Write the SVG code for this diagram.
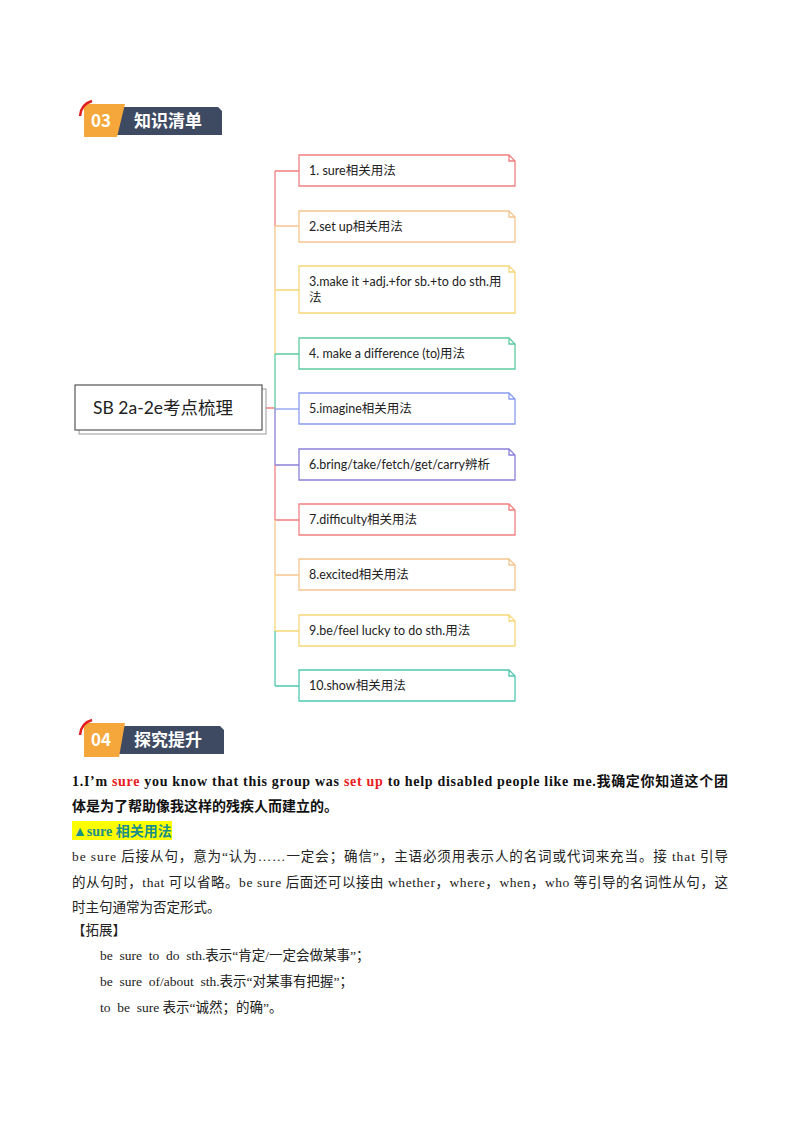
<svg xmlns="http://www.w3.org/2000/svg" width="800" height="1132" viewBox="0 0 800 1132">
<style>
.n{fill:#fff;stroke-width:1.3}
.t{font-family:"Lato","Noto Sans CJK SC",sans-serif;font-size:12.5px;fill:#222}
.c{fill:none;stroke-width:1.3}
.hd{font-family:"Noto Sans CJK SC",sans-serif;font-weight:bold;font-size:17px;fill:#fff}
.b{font-family:"Liberation Serif","Noto Sans CJK SC",serif;font-size:13.5px;fill:#222}
.bb{font-family:"Liberation Serif","Noto Sans CJK SC",serif;font-size:14px;font-weight:bold;fill:#111}
</style>
<rect width="800" height="1132" fill="#fff"/>
<g id="h03">
<polygon points="118,107 218,107 222,111 222,135 114,135" fill="#3e4a62"/>
<polygon points="84,104 125,104 117,137 84,137" fill="#f6a73c"/>
<path d="M80,116 Q81,104 92,101" stroke="#e02020" stroke-width="2.5" fill="none"/>
<text x="91" y="127" class="hd">03</text>
<text x="134" y="127" class="hd">知识清单</text>
</g>
<g id="connectors">
<path class="c" stroke="#f08080" d="M265,408 H275 M275,171 V226 M275,171 H299"/>
<path class="c" stroke="#f5c590" d="M275,226 V290 M275,226 H299"/>
<path class="c" stroke="#f5d878" d="M275,290 V354 M275,290 H299"/>
<path class="c" stroke="#5ccba0" d="M275,354 V409 M275,354 H299"/>
<path class="c" stroke="#8a9cf0" d="M275,409 H299"/>
<path class="c" stroke="#8a80d8" d="M275,409 V465 M275,465 H299"/>
<path class="c" stroke="#f08080" d="M275,465 V520 M275,520 H299"/>
<path class="c" stroke="#f5c590" d="M275,520 V575 M275,575 H299"/>
<path class="c" stroke="#f5d878" d="M275,575 V631 M275,631 H299"/>
<path class="c" stroke="#50c8b0" d="M275,631 V686 M275,686 H299"/>
</g>
<g id="root">
<rect x="79" y="389" width="187" height="45" fill="#fff" stroke="#999"/>
<rect x="75" y="385" width="187" height="45" fill="#fff" stroke="#555" stroke-width="1.2"/>
<text x="93" y="414" font-family="Lato,'Noto Sans CJK SC',sans-serif" font-size="17.5" fill="#222">SB 2a-2e考点梳理</text>
</g>
<g id="n1"><path class="n" stroke="#f08080" d="M299,155 H509 L515,161 V186 H299 Z M509,155 V161 H515"/><text x="309" y="175" class="t">1. sure相关用法</text></g>
<g id="n2"><path class="n" stroke="#f5c590" d="M299,211 H509 L515,217 V242 H299 Z M509,211 V217 H515"/><text x="309" y="231" class="t">2.set up相关用法</text></g>
<g id="n3"><path class="n" stroke="#f5d878" d="M299,266 H509 L515,272 V313 H299 Z M509,266 V272 H515"/><text x="309" y="286" class="t">3.make it +adj.+for sb.+to do sth.用</text><text x="309" y="302" class="t">法</text></g>
<g id="n4"><path class="n" stroke="#5ccba0" d="M299,338 H509 L515,344 V369 H299 Z M509,338 V344 H515"/><text x="309" y="358" class="t">4. make a difference (to)用法</text></g>
<g id="n5"><path class="n" stroke="#8a9cf0" d="M299,393 H509 L515,399 V424 H299 Z M509,393 V399 H515"/><text x="309" y="413" class="t">5.imagine相关用法</text></g>
<g id="n6"><path class="n" stroke="#8a80d8" d="M299,449 H509 L515,455 V480 H299 Z M509,449 V455 H515"/><text x="309" y="469" class="t">6.bring/take/fetch/get/carry辨析</text></g>
<g id="n7"><path class="n" stroke="#f08080" d="M299,504 H509 L515,510 V535 H299 Z M509,504 V510 H515"/><text x="309" y="524" class="t">7.difficulty相关用法</text></g>
<g id="n8"><path class="n" stroke="#f5c590" d="M299,559 H509 L515,565 V590 H299 Z M509,559 V565 H515"/><text x="309" y="579" class="t">8.excited相关用法</text></g>
<g id="n9"><path class="n" stroke="#f5d878" d="M299,615 H509 L515,621 V646 H299 Z M509,615 V621 H515"/><text x="309" y="635" class="t">9.be/feel lucky to do sth.用法</text></g>
<g id="n10"><path class="n" stroke="#50c8b0" d="M299,670 H509 L515,676 V701 H299 Z M509,670 V676 H515"/><text x="309" y="690" class="t">10.show相关用法</text></g>
<g id="h04">
<polygon points="120,726 220,726 224,730 224,754 116,754" fill="#3e4a62"/>
<polygon points="84,723 125,723 119,757 84,757" fill="#f6a73c"/>
<path d="M80,735 Q81,723 92,720" stroke="#e02020" stroke-width="2.5" fill="none"/>
<text x="91" y="746" class="hd">04</text>
<text x="134" y="746" class="hd">探究提升</text>
</g>
<g id="body">
<text x="72" y="786" class="bb" textLength="656" lengthAdjust="spacing">1.I’m <tspan fill="#e82020">sure</tspan> you know that this group was <tspan fill="#e82020">set up</tspan> to help disabled people like me.我确定你知道这个团</text>
<text x="72" y="811" class="bb">体是为了帮助像我这样的残疾人而建立的。</text>
<rect x="72" y="821" width="100" height="19" fill="#ffff00"/>
<text x="73" y="836" class="bb" style="fill:#1a8f8a">▲sure 相关用法</text>
<text x="72" y="861" class="b" textLength="656" lengthAdjust="spacing">be sure 后接从句，意为“认为……一定会；确信”，主语必须用表示人的名词或代词来充当。接 that 引导</text>
<text x="72" y="887" class="b" textLength="656" lengthAdjust="spacing">的从句时，that 可以省略。be sure 后面还可以接由 whether，where，when，who 等引导的名词性从句，这</text>
<text x="72" y="912" class="b">时主句通常为否定形式。</text>
<text x="72" y="935" class="b">【拓展】</text>
<text x="100" y="960" class="b" xml:space="preserve">be  sure  to  do  sth.表示“肯定/一定会做某事”；</text>
<text x="100" y="986" class="b" xml:space="preserve">be  sure  of/about  sth.表示“对某事有把握”；</text>
<text x="100" y="1012" class="b" xml:space="preserve">to  be  sure 表示“诚然；的确”。</text>
</g>
</svg>
